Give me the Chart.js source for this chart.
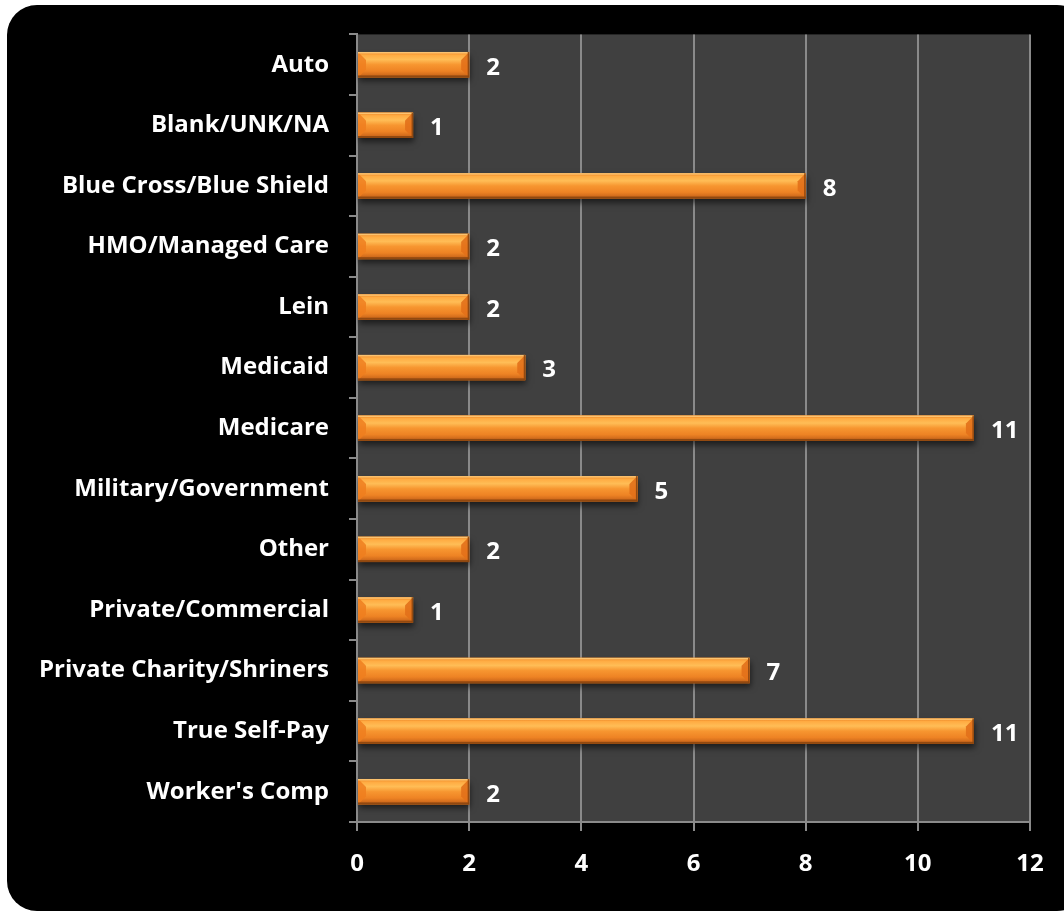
<!DOCTYPE html>
<html lang="en">
<head>
    <meta charset="UTF-8">
    <title>Payer Mix</title>
    <script src="https://cdn.jsdelivr.net/npm/chart.js"></script>
    <style>
        html, body { margin: 0; padding: 0; background: #fff; overflow: hidden; }
        #wrap { position: relative; width: 1064px; height: 911px; overflow: hidden; }
        #panel {
            position: absolute; left: 7px; top: 5px; width: 1080px; height: 906px;
            background: #000; border-radius: 30px;
        }
        #payers { position: absolute; left: 0; top: 0; }
    </style>
</head>
<body>
    <div id="wrap">
        <div id="panel"></div>
        <canvas id="payers" width="1064" height="911"></canvas>
    </div>

    <script>
        // payer categories and counts
        const payerNames = [
            'Auto', 'Blank/UNK/NA', 'Blue Cross/Blue Shield', 'HMO/Managed Care', 'Lein',
            'Medicaid', 'Medicare', 'Military/Government', 'Other', 'Private/Commercial',
            'Private Charity/Shriners', 'True Self-Pay', "Worker's Comp"
        ];
        const payerCounts = [2, 1, 8, 2, 2, 3, 11, 5, 2, 1, 7, 11, 2];
        const xTicks = [0, 2, 4, 6, 8, 10, 12];

        const FONT = '"Open Sans", Lato, sans-serif';

        // dark plot background
        const plotBg = {
            id: 'plotBg',
            beforeDraw(chart) {
                const a = chart.chartArea, ctx = chart.ctx;
                ctx.save();
                ctx.fillStyle = '#404040';
                ctx.fillRect(a.left, a.top, a.right - a.left, a.bottom - a.top);
                ctx.restore();
            }
        };

        // shadow under bars
        const barShadow = {
            id: 'barShadow',
            beforeDatasetDraw(chart) {
                const ctx = chart.ctx;
                ctx.save();
                ctx.shadowColor = 'rgba(0,0,0,0.55)';
                ctx.shadowBlur = 6;
                ctx.shadowOffsetY = 4;
                ctx.shadowOffsetX = 1;
            },
            afterDatasetDraw(chart) {
                chart.ctx.restore();
            }
        };

        // orange bevel look on every bar
        const bevel = {
            id: 'bevel',
            afterDatasetsDraw(chart) {
                const ctx = chart.ctx;
                const meta = chart.getDatasetMeta(0);
                meta.data.forEach(bar => {
                    const l = bar.base, r = bar.x;
                    const t = bar.y - bar.height / 2, b = bar.y + bar.height / 2;
                    const h = b - t, e = Math.min(8, (r - l) / 3);
                    ctx.save();
                    let g = ctx.createLinearGradient(0, t, 0, b);
                    g.addColorStop(0, '#e57a1e');
                    g.addColorStop(0.12, '#ffab42');
                    g.addColorStop(0.3, '#ffbd56');
                    g.addColorStop(0.5, '#f79630');
                    g.addColorStop(0.75, '#ee8324');
                    g.addColorStop(0.9, '#d26c1c');
                    g.addColorStop(1, '#b35a16');
                    ctx.fillStyle = g;
                    ctx.fillRect(l, t, r - l, h);
                    // end bevels
                    ctx.fillStyle = 'rgba(238,126,30,0.85)';
                    ctx.beginPath();
                    ctx.moveTo(l, t); ctx.lineTo(l + e, t + e); ctx.lineTo(l + e, b - e); ctx.lineTo(l, b);
                    ctx.closePath(); ctx.fill();
                    ctx.fillStyle = 'rgba(226,112,26,0.9)';
                    ctx.beginPath();
                    ctx.moveTo(r, t); ctx.lineTo(r - e, t + e); ctx.lineTo(r - e, b - e); ctx.lineTo(r, b);
                    ctx.closePath(); ctx.fill();
                    // edge lines
                    ctx.fillStyle = 'rgba(255,210,130,0.8)';
                    ctx.fillRect(l, t, r - l, 1.5);
                    ctx.fillStyle = 'rgba(140,70,15,0.9)';
                    ctx.fillRect(l, b - 2, r - l, 2);
                    ctx.fillRect(r - 1.5, t, 1.5, h);
                    ctx.restore();
                });
            }
        };

        // counts written at the end of each bar
        const valueLabels = {
            id: 'valueLabels',
            afterDatasetsDraw(chart) {
                const ctx = chart.ctx;
                const meta = chart.getDatasetMeta(0);
                ctx.save();
                ctx.fillStyle = '#fff';
                ctx.font = 'bold 24px ' + FONT;
                ctx.textAlign = 'left';
                ctx.textBaseline = 'middle';
                meta.data.forEach((bar, i) => {
                    ctx.fillText(String(payerCounts[i]), bar.x + 17, bar.y + 3);
                });
                ctx.restore();
            }
        };

        new Chart(document.getElementById('payers'), {
            type: 'bar',
            data: {
                labels: payerNames,
                datasets: [{
                    data: payerCounts,
                    backgroundColor: '#f08a2a',
                    borderWidth: 0,
                    barPercentage: 0.42,
                    categoryPercentage: 1
                }]
            },
            options: {
                indexAxis: 'y',
                responsive: false,
                animation: false,
                devicePixelRatio: 1,
                layout: { padding: { top: 33, right: 34, left: 0, bottom: 0 } },
                plugins: { legend: { display: false }, tooltip: { enabled: false } },
                scales: {
                    x: {
                        min: 0, max: 12,
                        afterBuildTicks(axis) { axis.ticks = xTicks.map(v => ({ value: v })); },
                        afterFit(axis) { axis.height = 911 - 822; },
                        grid: { color: '#8a8a8a', lineWidth: 2, tickLength: 9, drawTicks: true },
                        border: { color: '#8a8a8a', width: 2 },
                        ticks: {
                            color: '#fff', padding: 19,
                            font: { family: FONT, size: 24, weight: 'bold' }
                        }
                    },
                    y: {
                        afterFit(axis) { axis.width = 357; },
                        grid: { color: '#8a8a8a', lineWidth: 2, drawOnChartArea: false, tickLength: 8, offset: true },
                        border: { color: '#8a8a8a', width: 2 },
                        ticks: {
                            color: '#fff', padding: 20,
                            font: { family: FONT, size: 24, weight: 'bold' }
                        }
                    }
                }
            },
            plugins: [plotBg, barShadow, bevel, valueLabels]
        });
    </script>
</body>
</html>
